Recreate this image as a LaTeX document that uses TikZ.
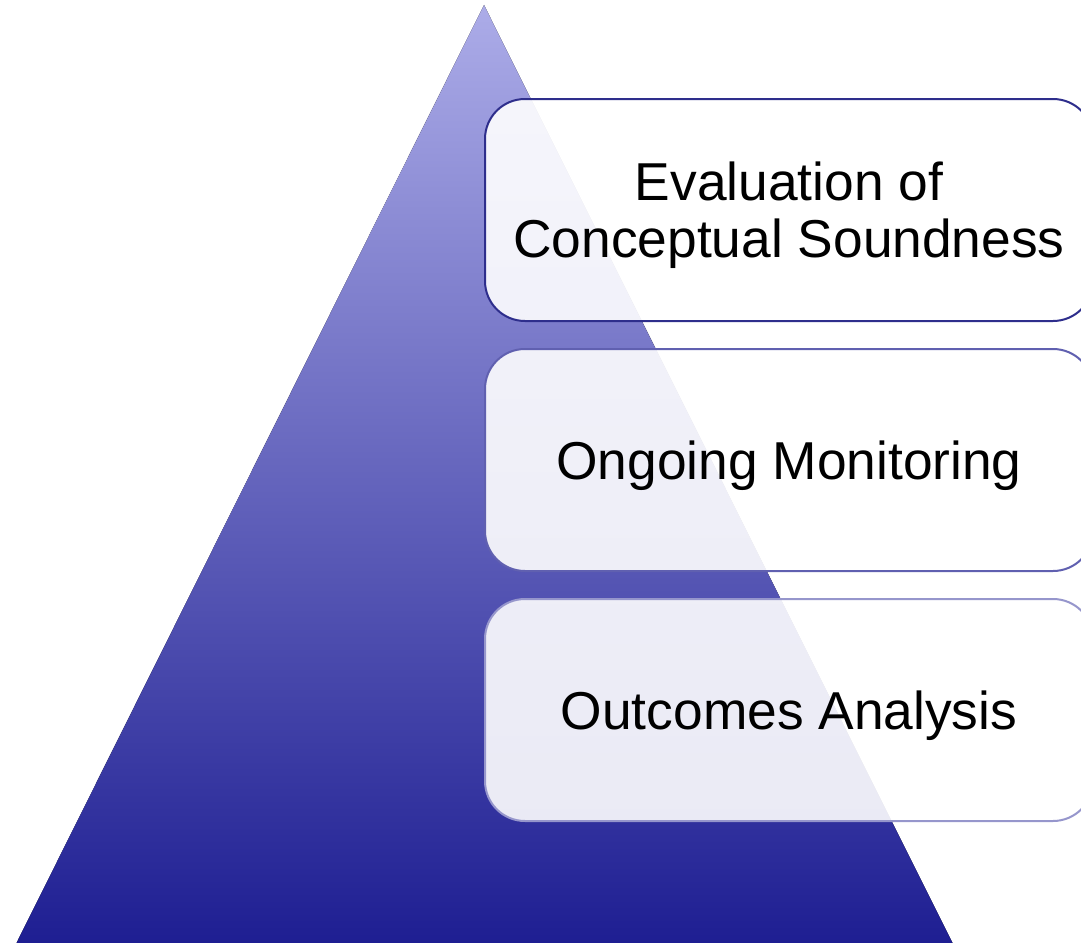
\documentclass[tikz,border=0pt]{standalone}
\usepackage{fontspec}
\setmainfont{Liberation Sans}

\definecolor{apex}{RGB}{172,172,232}
\definecolor{base}{RGB}{30,30,146}
\definecolor{edge1}{RGB}{46,46,140}
\definecolor{edge2}{RGB}{96,96,176}
\definecolor{edge3}{RGB}{150,150,204}

\tikzset{
  level box/.style={rectangle, rounded corners=30pt, line width=1.5pt,
    fill=white, fill opacity=0.9, text opacity=1, align=center,
    minimum width=456pt, minimum height=166.5pt, inner sep=0pt,
    text depth=0pt, font=\fontsize{40}{43}\selectfont}
}

\begin{document}
\begin{tikzpicture}[x=0.75pt,y=-0.75pt]
\useasboundingbox (0,0) rectangle (1081,942);
\clip (0,0) rectangle (1081,942);

% pyramid
\fill[top color=apex,bottom color=base] (484,5) -- (953,944) -- (16,944) -- cycle;

% the three levels
\foreach \i/\y/\txt in {1/210/{Evaluation of\\Conceptual Soundness},
                        2/460/{Ongoing Monitoring},
                        3/710/{Outcomes Analysis}}{
  \node[level box,draw=edge\i] (level\i) at (789,\y) {\txt};
}

\end{tikzpicture}
\end{document}
